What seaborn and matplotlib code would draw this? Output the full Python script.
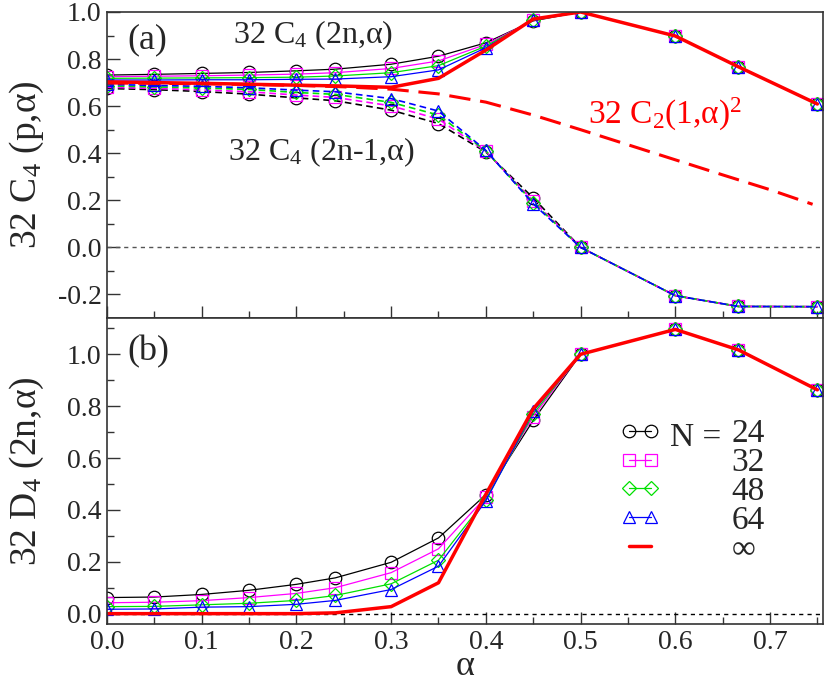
import numpy as np
import pandas as pd
import seaborn as sns
import matplotlib
matplotlib.use("Agg")
import matplotlib.pyplot as plt
from matplotlib.ticker import MultipleLocator, FormatStrFormatter

# alpha grid of the finite-size data
alpha = [0.0, 0.05, 0.1, 0.15, 0.2, 0.2411, 0.3, 0.35, 0.4, 0.45, 0.5, 0.6, 0.6667, 0.75]
sizes = ["24", "32", "48", "64"]

# 32 C4(2n, alpha), solid lines
c4_even = {
    "24": [0.732, 0.735, 0.739, 0.743, 0.750, 0.757, 0.778, 0.812, 0.869, 0.962, 1.0, 0.898, 0.767, 0.609],
    "32": [0.725, 0.727, 0.729, 0.732, 0.736, 0.742, 0.760, 0.792, 0.862, 0.965, 1.0, 0.898, 0.767, 0.609],
    "48": [0.718, 0.719, 0.720, 0.721, 0.723, 0.728, 0.742, 0.772, 0.855, 0.966, 1.0, 0.898, 0.767, 0.609],
    "64": [0.711, 0.711, 0.712, 0.712, 0.714, 0.715, 0.725, 0.754, 0.848, 0.968, 1.0, 0.898, 0.767, 0.609],
}
c4_even_inf = [0.703, 0.700, 0.697, 0.693, 0.689, 0.686, 0.680, 0.718, 0.838, 0.970, 1.0, 0.898, 0.767, 0.609]

# 32 C4(2n-1, alpha), dashed lines
c4_odd = {
    "24": [0.675, 0.670, 0.662, 0.651, 0.635, 0.623, 0.583, 0.526, 0.405, 0.210, 0.0, -0.205, -0.251, -0.252],
    "32": [0.680, 0.676, 0.669, 0.661, 0.647, 0.637, 0.601, 0.545, 0.408, 0.197, 0.0, -0.205, -0.251, -0.252],
    "48": [0.686, 0.682, 0.677, 0.671, 0.658, 0.650, 0.616, 0.562, 0.410, 0.190, 0.0, -0.205, -0.251, -0.252],
    "64": [0.692, 0.688, 0.684, 0.678, 0.668, 0.661, 0.632, 0.579, 0.412, 0.185, 0.0, -0.205, -0.251, -0.252],
}

# 32 C2(1, alpha)^2, red dashed curve
c2_alpha = [0.0, 0.05, 0.1, 0.15, 0.2, 0.25, 0.3, 0.35, 0.4, 0.45, 0.5, 0.55, 0.6, 0.65, 0.7, 0.745]
c2_sq = [0.698, 0.697, 0.695, 0.692, 0.688, 0.682, 0.672, 0.652, 0.617, 0.562, 0.500, 0.436, 0.372, 0.308, 0.245, 0.183]

# 32 D4(2n, alpha), bottom panel
d4 = {
    "24": [0.062, 0.064, 0.074, 0.090, 0.113, 0.138, 0.198, 0.292, 0.459, 0.745, 1.0, 1.096, 1.017, 0.863],
    "32": [0.042, 0.044, 0.050, 0.062, 0.078, 0.100, 0.158, 0.250, 0.450, 0.760, 1.0, 1.096, 1.017, 0.863],
    "48": [0.027, 0.028, 0.034, 0.040, 0.051, 0.070, 0.115, 0.206, 0.440, 0.770, 1.0, 1.096, 1.017, 0.863],
    "64": [0.017, 0.018, 0.025, 0.027, 0.036, 0.051, 0.093, 0.183, 0.435, 0.780, 1.0, 1.096, 1.017, 0.863],
}
d4_inf = [0.0, 0.0, 0.0, 0.0, 0.0, 0.003, 0.027, 0.119, 0.460, 0.790, 1.0, 1.096, 1.017, 0.863]

colors = {"24": "black", "32": "#ff00ff", "48": "#00e000", "64": "#0000ff"}
markers = {"24": ("o", 9), "32": ("s", 8), "48": ("D", 7), "64": ("^", 9)}

sns.set_theme(style="ticks")
plt.rcParams['font.family'] = ['Liberation Serif', 'DejaVu Serif']
plt.rcParams['mathtext.fontset'] = 'custom'
plt.rcParams['mathtext.rm'] = 'Liberation Serif'
plt.rcParams['mathtext.it'] = 'Liberation Serif:italic'
plt.rcParams['mathtext.default'] = 'rm'
plt.rcParams['axes.unicode_minus'] = False

fig = plt.figure(figsize=(8.3, 6.84), dpi=100)
ax1 = fig.add_axes([0.1289, 0.5351, 0.8627, 0.4474])
ax2 = fig.add_axes([0.1289, 0.0877, 0.8627, 0.4474])


def series(ax, y, color, marker=None, ms=0, lw=0.9, dash=None, xs=alpha, label=None):
    kw = dict(color=color, lw=lw)
    if marker:
        kw.update(marker=marker, ms=ms, mfc="none", mec=color, mew=0.9)
    sns.lineplot(x=xs, y=y, ax=ax, sort=False, estimator=None, errorbar=None,
                 legend=False, **kw)
    line = ax.lines[-1]
    if dash:
        line.set_dashes(dash)
    if label is not None:
        line.set_label(label)
    return line


# top panel
ax1.axhline(0, color="#555555", lw=1, dashes=(3, 3))
for n in sizes:
    m, ms = markers[n]
    series(ax1, c4_even[n], colors[n], m, ms)
    series(ax1, c4_odd[n], colors[n], m, ms, lw=1.2, dash=(4, 2.5))
series(ax1, c4_even_inf, "red", lw=2.5)
series(ax1, c2_sq, "red", lw=2.2, dash=(7, 3.2), xs=c2_alpha)

# bottom panel
ax2.axhline(0, color="black", lw=1, dashes=(3, 3))
handles = []
for n in sizes:
    m, ms = markers[n]
    handles.append(series(ax2, d4[n], colors[n], m, ms, label=n))
handles.append(series(ax2, d4_inf, "red", lw=2.5, label="∞"))

for ax in (ax1, ax2):
    ax.set_xlim(0, 0.756)
    ax.xaxis.set_major_locator(MultipleLocator(0.1))
    ax.xaxis.set_minor_locator(MultipleLocator(0.05))
    ax.yaxis.set_major_locator(MultipleLocator(0.2))
    ax.yaxis.set_minor_locator(MultipleLocator(0.1))
    ax.yaxis.set_major_formatter(FormatStrFormatter("%.1f"))
    ax.xaxis.set_major_formatter(FormatStrFormatter("%.1f"))
    ax.tick_params(which="both", direction="in", top=False, right=False,
                   labelsize=20, width=1, color="#333333", pad=4)
    ax.tick_params(which="major", length=9)
    ax.tick_params(which="minor", length=5)
    for s in ax.spines.values():
        s.set_color("#333333")
        s.set_linewidth(1.2)

ax1.set_ylim(-0.3, 1.0)
ax2.set_ylim(-0.04, 1.14)
ax1.tick_params(labelbottom=False)

ax1.set_ylabel("32 C$_4$ (p,α)", fontsize=27)
ax2.set_ylabel("32 D$_4$ (2n,α)", fontsize=27)
ax1.yaxis.set_label_coords(-0.085, 0.5)
ax2.yaxis.set_label_coords(-0.085, 0.5)
ax2.set_xlabel("α", fontsize=26, labelpad=-3)

ax1.text(0.029, 0.908, "(a)", transform=ax1.transAxes, fontsize=26, va="center")
ax2.text(0.029, 0.889, "(b)", transform=ax2.transAxes, fontsize=26, va="center")
ax1.text(0.176, 0.899, "32 C$_4$ (2n,α)", transform=ax1.transAxes, fontsize=23, va="baseline")
ax1.text(0.169, 0.516, "32 C$_4$ (2n-1,α)", transform=ax1.transAxes, fontsize=23, va="baseline")
ax1.text(0.672, 0.634, "32 C$_2$(1,α)$^2$", transform=ax1.transAxes, fontsize=24,
         va="baseline", color="red")

ax2.legend(handles=handles, labels=["24", "32", "48", "64", "∞"], loc="upper left",
           bbox_to_anchor=(0.715, 0.67), frameon=False, fontsize=24, numpoints=2,
           handlelength=1.27, handletextpad=2.1, labelspacing=-0.05,
           borderpad=0, borderaxespad=0)
ax2.text(0.786, 0.582, "N =", transform=ax2.transAxes, fontsize=24, va="baseline")

fig.savefig("out.png", dpi=100)
